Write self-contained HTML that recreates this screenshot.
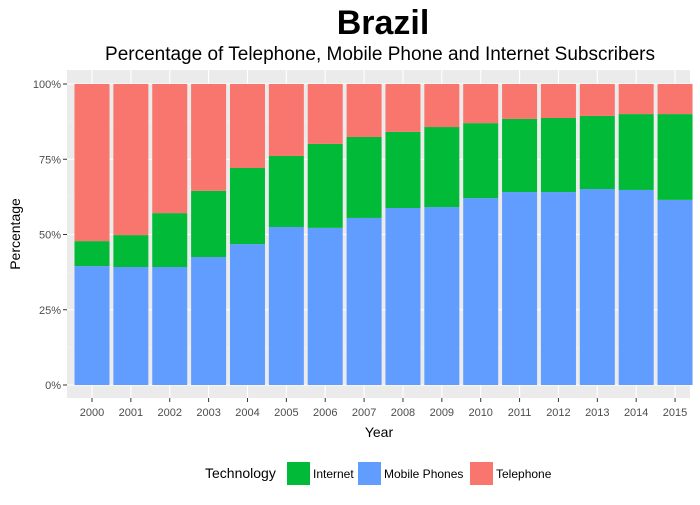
<!DOCTYPE html>
<html><head><meta charset="utf-8"><style>
body{margin:0;background:#fff;font-family:"Liberation Sans",sans-serif;}
</style></head><body>
<svg id="chart" width="700" height="500" xmlns="http://www.w3.org/2000/svg" font-family="Liberation Sans, sans-serif">
<text x="383" y="34" text-anchor="middle" font-size="34" font-weight="bold">Brazil</text>
<text x="380" y="60" text-anchor="middle" font-size="19">Percentage of Telephone, Mobile Phone and Internet Subscribers</text>
<rect x="67" y="70" width="623" height="328" fill="#ebebeb"/>
<g id="grid"></g><g id="bars"></g><g id="axes"></g>
<text x="379" y="437" text-anchor="middle" font-size="14">Year</text>
<text transform="translate(20,234) rotate(-90)" text-anchor="middle" font-size="14">Percentage</text>
<g>
<text x="205" y="478" font-size="14">Technology</text>
<g><rect x="287" y="462" width="23" height="23" fill="#00ba38"/><text x="313" y="478" font-size="12">Internet</text></g>
<g><rect x="358" y="462" width="23" height="23" fill="#619cff"/><text x="384" y="478" font-size="12">Mobile Phones</text></g>
<g><rect x="470" y="462" width="23" height="23" fill="#f8766d"/><text x="496" y="478" font-size="12">Telephone</text></g>
</g>
</svg>
<script>
const years=["2000","2001","2002","2003","2004","2005","2006","2007","2008","2009","2010","2011","2012","2013","2014","2015"];
const mobile=[39.5,39.2,39.2,42.5,46.8,52.5,52.2,55.5,58.8,59.1,62.1,64.1,64.1,65.1,64.8,61.5];
const internet=[8.3,10.6,17.9,22.0,25.3,23.6,27.9,26.9,25.3,26.6,24.9,24.3,24.6,24.3,25.2,28.5];
const telephone=years.map((y,i)=>100-mobile[i]-internet[i]);
const yTicks=[0,25,50,75,100];
const NS="http://www.w3.org/2000/svg";
const y=v=>385-v*3.01;
const x=i=>92+i*38.87;
const bw=35;
function mk(tag,attrs,parent){const e=document.createElementNS(NS,tag);for(const k in attrs)e.setAttribute(k,attrs[k]);parent.appendChild(e);return e;}
const grid=document.getElementById('grid'),bars=document.getElementById('bars'),axes=document.getElementById('axes');
for(let t=12.5;t<100;t+=25){const l=mk('line',{x1:67,x2:690,y1:y(t),y2:y(t),stroke:'#f5f5f5','stroke-width':0.6},grid);

}
yTicks.forEach(t=>{const l=mk('line',{x1:67,x2:690,y1:y(t),y2:y(t),stroke:'#fff','stroke-width':1.1},grid);


const tx=mk('text',{x:61,y:y(t)+4,'text-anchor':'end','font-size':11,fill:'#4d4d4d'},axes);tx.textContent=t+'%';


mk('line',{x1:63,x2:67,y1:y(t),y2:y(t),stroke:'#333'},axes);});
years.forEach((yr,i)=>{const l=mk('line',{x1:x(i),x2:x(i),y1:70,y2:398,stroke:'#fff','stroke-width':1.1},grid);


const segs=[[0,mobile[i],'#619cff','mobile'],[mobile[i],mobile[i]+internet[i],'#00ba38','internet'],[mobile[i]+internet[i],100,'#f8766d','telephone']];
segs.forEach(s=>{const r=mk('rect',{x:x(i)-bw/2,y:y(s[1]),width:bw,height:y(s[0])-y(s[1]),fill:s[2]},bars);

});
mk('line',{x1:x(i),x2:x(i),y1:398,y2:402,stroke:'#333'},axes);
const tx=mk('text',{x:x(i),y:416,'text-anchor':'middle','font-size':11,fill:'#4d4d4d'},axes);tx.textContent=yr;

});
</script>
</body></html>
